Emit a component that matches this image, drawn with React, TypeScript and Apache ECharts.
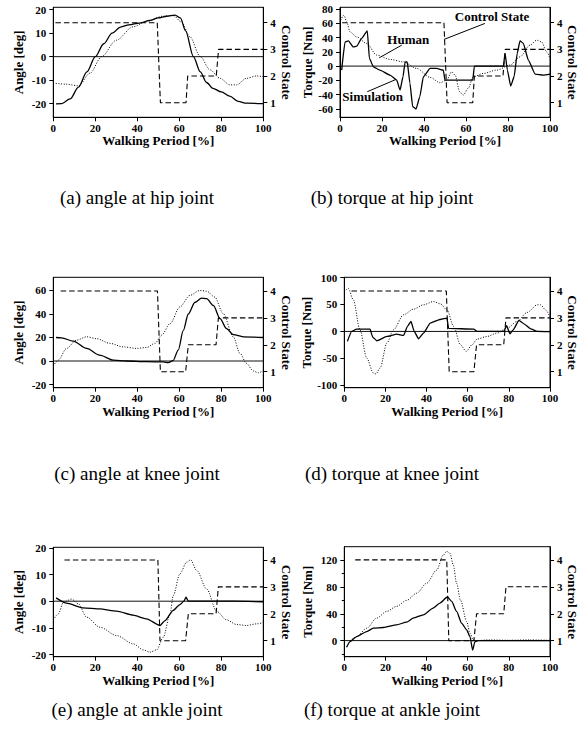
import React, { useEffect, useRef } from "react";
import * as echarts from "echarts";

// ---------- data ----------
const xTicks = [0, 20, 40, 60, 80, 100];
const stateTicks = [1, 2, 3, 4];

const hipAngleTicks = [-20, -10, 0, 10, 20];
const hipTorqueTicks = [-60, -40, -20, 0, 20, 40, 60, 80];
const kneeAngleTicks = [-20, 0, 20, 40, 60];
const kneeTorqueTicks = [-100, -50, 0, 50, 100];
const ankleAngleTicks = [-20, -10, 0, 10, 20];
const ankleTorqueTicks = [0, 40, 80, 120];
const ankleTorqueMinorTicks = [-20, 20, 60, 100];

const stateHip = [[1, 4], [49.5, 4], [51, 1], [63.2, 1], [64, 2], [77.6, 2], [78.7, 3], [100, 3]];
const stateKnee = [[3.5, 4], [49.6, 4], [51, 1], [63, 1], [64.3, 2], [77.5, 2], [78.6, 3], [100, 3]];
const stateAnkle = [[5.3, 4], [49.8, 4], [50.8, 1], [63, 1], [64.3, 2], [77.5, 2], [78.6, 3], [100, 3]];

const hipAngleSim = [[1.3, -20.1], [4, -20], [8, -18], [12, -13], [16, -6.5], [20, 0], [24, 5.5], [28, 10], [32, 12.6], [36, 13.5], [41, 14.3], [46, 15.4], [50, 16.5], [54, 17.2], [58, 17.7], [60.5, 16.5], [63, 11], [66.7, 0], [70, -6.5], [73, -11], [76, -13.5], [80, -15], [84, -16.8], [88, -19], [92, -19.8], [100, -20]];
const hipAngleHuman = [[0, -11.3], [6, -11.7], [12, -12.4], [17.5, -7], [23, 0], [30, 7], [38, 12.7], [44, 14.8], [52, 17.2], [57, 17.6], [61, 14.8], [65, 8.5], [70, 0], [74.6, -5.6], [79.4, -9.2], [84, -12], [87.3, -12], [92, -9.2], [96.8, -8.2], [100, -8.5]];

const hipTorqueSim = [[0.8, -5.6], [2.4, 34], [4, 35.6], [6.3, 27], [8, 28], [10.3, 38.9], [13, 49.6], [14, 10.8], [15.9, -1], [19, -5.6], [23.8, -12.6], [27, -19.7], [28.6, -33.7], [30, -15], [31, 5.6], [32, 6], [33.3, -24], [34.6, -57], [36.2, -60.4], [38, -43], [39.7, -15], [42.9, -3.3], [46, -3.3], [49.2, -5.6], [50, -19.7], [63.2, -19.7], [64, 0], [77.8, 0], [78.6, 17.8], [79.7, -5.6], [81.3, -28], [82.9, -15], [84.4, 17.8], [85.7, 35.6], [87.3, 31.9], [89.7, 8.4], [92.9, -11.2], [96.8, -12.6], [100, -11.2]];
const hipTorqueHuman = [[0.3, 64.6], [1.9, 71.7], [3.2, 62], [4.8, 48], [8, 41], [12.7, 31.9], [17.5, 15.5], [23.8, 9.4], [30.2, 6], [36.5, -3.3], [43, -16], [47.6, -23.4], [50.8, -19.7], [53.2, -8], [54.8, -12.6], [57, -36], [58.7, -40.7], [61, -31.4], [63.5, -15], [68.3, -10.3], [74.6, -5.6], [81, 1.4], [85.7, 13], [90.5, 29.5], [93.7, 36.5], [96, 34], [98.4, 20], [100, 10.8]];

const kneeAngleSim = [[1.3, 20], [4, 19.7], [9.5, 16.9], [15.9, 10.7], [22, 5], [28.6, 0.8], [35, 0], [44.4, -0.5], [52.4, -0.8], [54.8, -1.4], [57, 0.3], [59.5, 9.3], [61.9, 26], [64.3, 40], [67.5, 50], [70.6, 53.5], [73, 53], [76.2, 47.3], [79.4, 36], [82.5, 27.6], [85.7, 22.5], [90.5, 20.6], [100, 20]];
const kneeAngleHuman = [[0, -4.2], [2.4, 0.8], [6.3, 10.7], [11, 17.7], [15.9, 20.6], [20.6, 19], [27, 15], [33.3, 12], [39.7, 10.7], [44.4, 11.5], [48.4, 15], [51.6, 22], [55.6, 31.8], [60.3, 46], [65, 55.8], [69.8, 60], [73, 59.4], [76.9, 54.4], [80.9, 40.3], [85.7, 20.6], [88.9, 6.5], [92, -2], [95.2, -8.5], [97.6, -10], [100, -8.2]];

const kneeTorqueSim = [[1.5, -18.5], [3.6, 0], [6, 4.3], [12.5, 4.3], [13.8, -10.5], [15.8, -17.3], [20.7, -9.3], [25.5, -5], [28.8, -7.4], [30.7, 9.3], [32.4, 18.5], [34, 0], [36.1, -13.6], [38.5, -3], [41.8, 15.4], [45.9, 21.6], [49.9, 24.7], [50.7, 5.6], [62.9, 4.3], [64.6, 0], [77.6, 0], [78.9, 10.5], [80.5, -4.3], [82.1, 3], [84.9, 20.4], [87.3, 14.2], [90.6, 4.9], [93.8, 0], [100, -0.5]];
const kneeTorqueHuman = [[0.8, 77], [2, 79.6], [4.4, 58.6], [7.6, 3], [10.9, -49.4], [14.1, -77], [15.4, -79], [17.4, -68], [20.7, -21.6], [23.9, 3], [28.8, 30.9], [33.7, 41.4], [38.5, 49.4], [43.4, 55.6], [46.7, 51.2], [49.9, 40], [53.2, 9.3], [56.4, -24.7], [59.3, -37], [62.1, -24.7], [64.6, -14.2], [69.4, -9.3], [74.3, -3], [79.2, 6.2], [84, 18.5], [88.9, 35.2], [93.8, 49.4], [95.4, 49.4], [97.9, 40], [100, 26.5]];

const ankleAngleSim = [[1.3, 1.25], [6.3, -0.75], [14.3, -2.5], [22.2, -2.9], [30.2, -3.75], [38, -5.25], [44.4, -6.6], [50.8, -9.1], [53.2, -7.25], [57, -3.5], [60.3, -1.25], [62.2, 0], [63.2, 1.5], [64.3, 0], [85.7, 0], [100, -0.2]];
const ankleAngleHuman = [[0, -7], [2.4, -4.75], [4.8, -0.4], [8.7, 0.8], [11.9, -1], [15.9, -6], [22.2, -9.75], [30.2, -12.9], [38.1, -16], [42.9, -18.25], [46, -19.1], [49.2, -18.25], [52.4, -13.5], [55.6, -4.75], [57.1, 2.1], [60.3, 10.25], [63.5, 14.6], [65.4, 15.5], [68.3, 11.5], [73, 4.6], [77.8, -3.8], [82.5, -7], [87.3, -8.75], [92, -9.1], [96.8, -8.5], [100, -8]];

const ankleTorqueSim = [[1.1, -10], [2.8, -1.5], [6, 6], [10.9, 13.5], [14.1, 18.5], [19, 19.5], [25.4, 23.5], [30.3, 27.5], [33.5, 33.5], [38.4, 38.5], [43.2, 48.5], [46.5, 56], [50.1, 65], [52.2, 58.5], [54.6, 43.5], [57, 26], [59.5, 16], [61.1, 6], [62.4, -14], [63.5, -1.5], [65.2, 0], [100, 0]];
const ankleTorqueHuman = [[1.9, -4], [6, 6], [10.9, 18.5], [15.7, 33.5], [20.6, 43.5], [25.4, 51], [30.3, 60], [35.2, 70.6], [40, 85.4], [44.9, 105], [48.1, 127.4], [49.8, 133], [51.4, 130], [53, 112.6], [54.6, 85.4], [56.5, 60], [59.5, 28.5], [61.1, 11], [62.7, 1], [64.3, 0], [70, 1], [80, 0.5], [90, 1], [100, 0.5]];

const captions = [
  "(a) angle at hip joint",
  "(b) torque at hip joint",
  "(c) angle at knee joint",
  "(d) torque at knee joint",
  "(e) angle at ankle joint",
  "(f) torque at ankle joint",
];

// ---------- layout ----------
const FONT = '"Liberation Serif", "Times New Roman", serif';

const panels = [
  { left: 53.3, top: 7.3, width: 210, height: 110, yMin: -25.8, yMax: 21, sMin: 0.453, sMax: 4.577, yName: "Angle [deg]", yGap: 28, sGap: 17, yTicks: hipAngleTicks, human: hipAngleHuman, sim: hipAngleSim, state: stateHip, simSmooth: 0.3 },
  { left: 340, top: 7.3, width: 210, height: 110, yMin: -72, yMax: 82.7, sMin: 0.453, sMax: 4.577, yName: "Torque [Nm]", yGap: 26, sGap: 15, yTicks: hipTorqueTicks, human: hipTorqueHuman, sim: hipTorqueSim, state: stateHip, simSmooth: 0.15 },
  { left: 53.3, top: 277.3, width: 210, height: 110.4, yMin: -22.7, yMax: 71.2, sMin: 0.405, sMax: 4.51, yName: "Angle [deg]", yGap: 28, sGap: 17, yTicks: kneeAngleTicks, human: kneeAngleHuman, sim: kneeAngleSim, state: stateKnee, simSmooth: 0.3 },
  { left: 344.3, top: 277.3, width: 205.7, height: 110.4, yMin: -104.5, yMax: 100.5, sMin: 0.405, sMax: 4.51, yName: "Torque [Nm]", yGap: 30, sGap: 16, yTicks: kneeTorqueTicks, human: kneeTorqueHuman, sim: kneeTorqueSim, state: stateKnee, simSmooth: 0.15 },
  { left: 53.3, top: 547.3, width: 210, height: 109.4, yMin: -20.8, yMax: 20.2, sMin: 0.405, sMax: 4.47, yName: "Angle [deg]", yGap: 28, sGap: 17, yTicks: ankleAngleTicks, human: ankleAngleHuman, sim: ankleAngleSim, state: stateAnkle, simSmooth: 0.2 },
  { left: 344.3, top: 546.7, width: 205.7, height: 110, yMin: -24, yMax: 140, sMin: 0.405, sMax: 4.49, yName: "Torque [Nm]", yGap: 30, sGap: 16, yTicks: ankleTorqueTicks, human: ankleTorqueHuman, sim: ankleTorqueSim, state: stateAnkle, simSmooth: 0.2 },
];

const captionPos = [
  [137, 197], [392, 197],
  [137, 473], [392, 473],
  [137, 709], [392, 709],
];

export default function App() {
  const ref = useRef<HTMLDivElement>(null);

  useEffect(() => {
    if (!ref.current) return;
    const chart = echarts.init(ref.current, null, { renderer: "svg" });

    const labelStyle = { color: "#000", fontFamily: FONT, fontWeight: "bold" as const, fontSize: 11 };
    const nameStyle = { color: "#000", fontFamily: FONT, fontWeight: "bold" as const, fontSize: 13 };

    const grid: any[] = [];
    const xAxis: any[] = [];
    const yAxis: any[] = [];
    const series: any[] = [];

    panels.forEach((p, i) => {
      grid.push({
        left: p.left, top: p.top, width: p.width, height: p.height,
        show: true, borderColor: "#000", borderWidth: 1, backgroundColor: "transparent",
        containLabel: false, outerBoundsMode: "none",
      });
      xAxis.push({
        type: "value", gridIndex: i, min: 0, max: 100, interval: 20,
        name: "Walking Period [%]", nameLocation: "middle", nameGap: 14, nameTextStyle: nameStyle,
        axisLine: { show: true, onZero: false, lineStyle: { color: "#000", width: 1 } },
        axisTick: { show: true, length: 4, inside: false, lineStyle: { color: "#000" }, customValues: xTicks },
        axisLabel: { ...labelStyle, margin: 5, customValues: xTicks },
        splitLine: { show: false },
      });
      yAxis.push({
        type: "value", gridIndex: i, position: "left", min: p.yMin, max: p.yMax,
        name: p.yName, nameLocation: "middle", nameRotate: 90, nameGap: p.yGap, nameTextStyle: nameStyle,
        axisLine: { show: true, onZero: false, lineStyle: { color: "#000", width: 1 } },
        axisTick: { show: true, length: 4, inside: false, lineStyle: { color: "#000" }, customValues: p.yTicks },
        axisLabel: { ...labelStyle, margin: 7, customValues: p.yTicks },
        splitLine: { show: false },
      });
      yAxis.push({
        type: "value", gridIndex: i, position: "right", min: p.sMin, max: p.sMax,
        name: "Control State", nameLocation: "middle", nameRotate: -90, nameGap: p.sGap, nameTextStyle: nameStyle,
        axisLine: { show: true, onZero: false, lineStyle: { color: "#000", width: 1 } },
        axisTick: { show: true, length: 4, inside: false, lineStyle: { color: "#000" }, customValues: stateTicks },
        axisLabel: { ...labelStyle, margin: 7, customValues: stateTicks },
        splitLine: { show: false },
      });

      const yIdx = i * 2;
      const zero: any = {
        type: "line", xAxisIndex: i, yAxisIndex: yIdx, data: [[0, 0], [100, 0]],
        symbol: "none", silent: true, lineStyle: { color: "#111", width: 1 }, z: 1,
      };
      if (i === 1) {
        zero.markLine = {
          silent: true, symbol: ["none", "none"], animation: false,
          label: { show: false },
          lineStyle: { color: "#000", width: 1, type: "solid" },
          emphasis: { disabled: true },
          data: [
            [{ coord: [69, 60] }, { coord: [49.5, 37.5] }],
            [{ coord: [29.4, 29.5] }, { coord: [18.7, 11.7] }],
            [{ coord: [13, -36] }, { coord: [26.7, -18.7] }],
          ],
        };
      }
      series.push(zero);
      series.push({
        type: "line", name: "Human", xAxisIndex: i, yAxisIndex: yIdx, data: p.human,
        symbol: "none", smooth: 0.3, smoothMonotone: "x",
        lineStyle: { color: "#000", width: 1, type: [1, 1.6] }, z: 2,
      });
      series.push({
        type: "line", name: "Simulation", xAxisIndex: i, yAxisIndex: yIdx, data: p.sim,
        symbol: "none", smooth: p.simSmooth, smoothMonotone: "x",
        lineStyle: { color: "#000", width: 1.3 }, z: 3,
      });
      series.push({
        type: "line", name: "Control State", xAxisIndex: i, yAxisIndex: yIdx + 1, data: p.state,
        symbol: "none",
        lineStyle: { color: "#000", width: 1.1, type: [5.5, 3] }, z: 4,
      });
    });

    // minor ticks on the ankle torque axis
    yAxis.push({
      type: "value", gridIndex: 5, position: "left", min: panels[5].yMin, max: panels[5].yMax,
      axisLine: { show: false },
      axisTick: { show: true, length: 2.5, inside: false, lineStyle: { color: "#000" }, customValues: ankleTorqueMinorTicks },
      axisLabel: { show: false },
      splitLine: { show: false },
    });

    const graphic: any[] = [];
    captions.forEach((c, i) => {
      graphic.push({
        type: "text", x: captionPos[i][0], y: captionPos[i][1], silent: true,
        style: { text: c, font: `19px ${FONT}`, fill: "#000", textAlign: "center", textVerticalAlign: "middle" },
      });
    });
    const ann = [
      ["Control State", 492, 16.7],
      ["Human", 408.3, 39.3],
      ["Simulation", 372.7, 96.7],
    ];
    ann.forEach(([t, x, y]) => {
      graphic.push({
        type: "text", x, y, silent: true, z: 100,
        style: { text: t, font: `bold 13px ${FONT}`, fill: "#000", textAlign: "center", textVerticalAlign: "middle" },
      });
    });

    chart.setOption({
      animation: false,
      backgroundColor: "#fff",
      grid, xAxis, yAxis, series, graphic,
    });

    return () => chart.dispose();
  }, []);

  return (
    <div
      ref={ref}
      style={{ position: "absolute", left: 0, top: 0, width: 587, height: 754 }}
    />
  );
}
